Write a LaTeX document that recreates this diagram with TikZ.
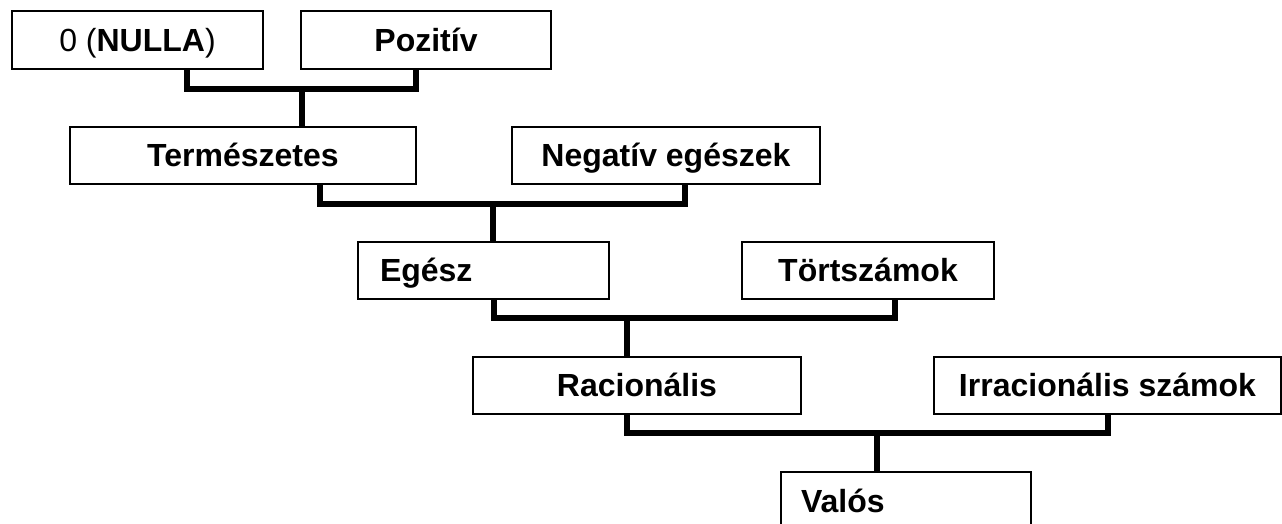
\documentclass[tikz,border=0pt]{standalone}
\usepackage{fontspec}
\setmainfont{Liberation Sans}
\begin{document}
\begin{tikzpicture}[x=0.75pt,y=-0.75pt,
  bx/.style={draw=black, line width=1.1pt, fill=white, inner sep=0pt, minimum height=43.5pt,
    text height=17.2pt, text depth=0pt,
    font=\fontsize{24}{28}\selectfont\bfseries},
  conn/.style={draw=black, line width=3.8pt, line join=miter, line cap=butt}]
\useasboundingbox (0,0) rectangle (1282,524);
\clip (0,0) rectangle (1282,524);
% row 1
\node[bx, minimum width=188.25pt] (nulla) at (137.5,40) {\mdseries 0 (\textbf{NULLA})};
\node[bx, minimum width=187.5pt] (poz) at (426,40) {Pozitív};
% row 2
\node[bx, minimum width=259.5pt, minimum height=42.75pt] (term) at (243,155.5) {Természetes};
\node[bx, minimum width=231pt, minimum height=42.75pt] (neg) at (666,155.5) {Negatív egészek};
% row 3
\node[bx, text width=155.25pt, inner xsep=16.5pt, align=left, minimum height=42.75pt] (egesz) at (483.5,270.5) {Egész};
\node[bx, minimum width=189pt, minimum height=42.75pt] (tort) at (868,270.5) {Törtszámok};
% row 4
\node[bx, minimum width=246pt, minimum height=42.75pt] (rac) at (637,385.5) {Racionális};
\node[bx, minimum width=260.25pt, minimum height=42.75pt] (irr) at (1107.5,385.5) {Irracionális számok};
% row 5
\node[bx, text width=157.5pt, inner xsep=15pt, align=left] (valos) at (906,501) {Valós};
% connector coordinates
\coordinate (c1a) at (187,89);
\coordinate (c1b) at (416,89);
\coordinate (j1) at (302,89);
\coordinate (c2a) at (320,204);
\coordinate (c2b) at (685,204);
\coordinate (j2) at (493,204);
\coordinate (c3a) at (494,318);
\coordinate (c3b) at (895,318);
\coordinate (j3) at (627,318);
\coordinate (c4a) at (627,433);
\coordinate (c4b) at (1108,433);
\coordinate (j4) at (877,433);
% connectors
\draw[conn] (nulla.south -| c1a) -- (c1a) -- (c1b) -- (poz.south -| c1b);
\draw[conn] (j1) -- (term.north -| j1);
\draw[conn] (term.south -| c2a) -- (c2a) -- (c2b) -- (neg.south -| c2b);
\draw[conn] (j2) -- (egesz.north -| j2);
\draw[conn] (egesz.south -| c3a) -- (c3a) -- (c3b) -- (tort.south -| c3b);
\draw[conn] (j3) -- (rac.north -| j3);
\draw[conn] (rac.south -| c4a) -- (c4a) -- (c4b) -- (irr.south -| c4b);
\draw[conn] (j4) -- (valos.north -| j4);
\end{tikzpicture}
\end{document}
